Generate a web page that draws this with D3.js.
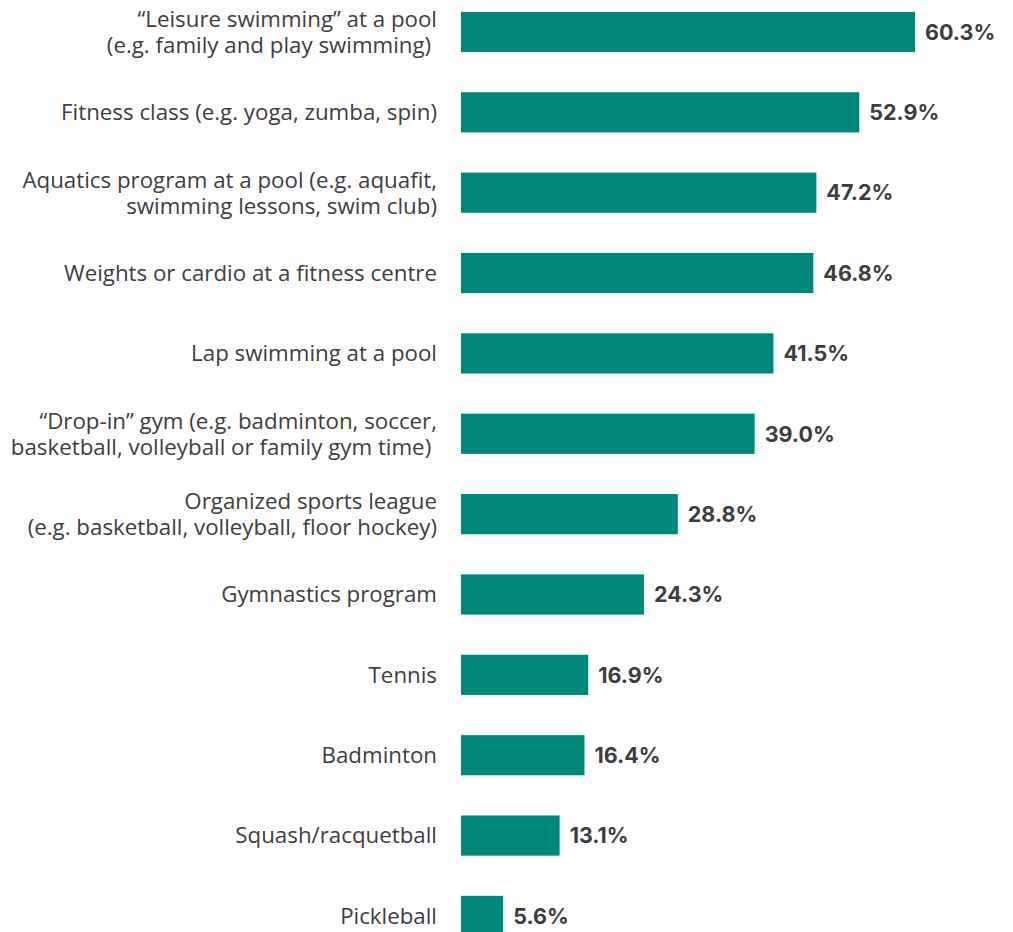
<!DOCTYPE html>
<html>
<head>
<meta charset="utf-8">
<script src="https://cdn.jsdelivr.net/npm/d3@7"></script>
<style>
  html, body { margin: 0; padding: 0; background: #ffffff; }
  svg { display: block; }
</style>
</head>
<body>
<svg id="chart" width="1013" height="932"></svg>
<script>
// Activity names (one entry per line of the wrapped label)
const activities = [
  ["\u201CLeisure swimming\u201D at a pool", "(e.g. family and play swimming)\u00A0"],
  ["Fitness class (e.g. yoga, zumba, spin)"],
  ["Aquatics program at a pool (e.g. aquafit,", "swimming lessons, swim club)"],
  ["Weights or cardio at a fitness centre"],
  ["Lap swimming at a pool"],
  ["\u201CDrop-in\u201D gym (e.g. badminton, soccer,", "basketball, volleyball or family gym time)\u00A0"],
  ["Organized sports league", "(e.g. basketball, volleyball, floor hockey)"],
  ["Gymnastics program"],
  ["Tennis"],
  ["Badminton"],
  ["Squash/racquetball"],
  ["Pickleball"]
];
// Share of respondents (%)
const shares = [60.3, 52.9, 47.2, 46.8, 41.5, 39.0, 28.8, 24.3, 16.9, 16.4, 13.1, 5.6];

const svg = d3.select("#chart");
const barColor = "#00877a";
const textColor = "#404041";

const rows = d3.range(shares.length);

const x = d3.scaleLinear().domain([0, 60.3]).range([461, 915]);
const y = d3.scaleBand().domain(rows).range([-8.2, 956.1]).paddingInner(0.5).paddingOuter(0.25);

// Bars
svg.append("g").selectAll("rect")
  .data(rows)
  .join("rect")
  .attr("x", x(0))
  .attr("y", i => y(i))
  .attr("width", i => x(shares[i]) - x(0))
  .attr("height", y.bandwidth())
  .attr("fill", barColor);

// Value labels
svg.append("g").selectAll("text")
  .data(rows)
  .join("text")
  .attr("x", i => x(shares[i]) + 10)
  .attr("y", i => y(i) + y.bandwidth() / 2)
  .attr("dy", "0.36em")
  .attr("font-family", "Inter, Lato, sans-serif")
  .attr("font-weight", 700)
  .attr("font-size", 21.5)
  .attr("fill", "#3e3e3f")
  .text(i => shares[i].toFixed(1) + "%");

// Category labels, right-aligned next to the bars
const fs = 22.3;
const lineH = 26;
const labels = svg.append("g")
  .attr("font-family", "'Open Sans', 'Noto Sans', sans-serif")
  .attr("font-size", fs)
  .attr("fill", textColor)
  .attr("text-anchor", "end")
  .style("white-space", "pre");

labels.selectAll("text")
  .data(rows)
  .join("text")
  .attr("x", 437)
  .attr("y", i => y(i) + y.bandwidth() / 2)
  .each(function(i) {
    const lines = activities[i];
    const t = d3.select(this);
    lines.forEach((ln, k) => {
      t.append("tspan")
        .attr("x", 437)
        .attr("dy", k === 0 ? (0.35 * fs - (lines.length - 1) * lineH / 2) : lineH)
        .text(ln);
    });
  });
</script>
</body>
</html>
